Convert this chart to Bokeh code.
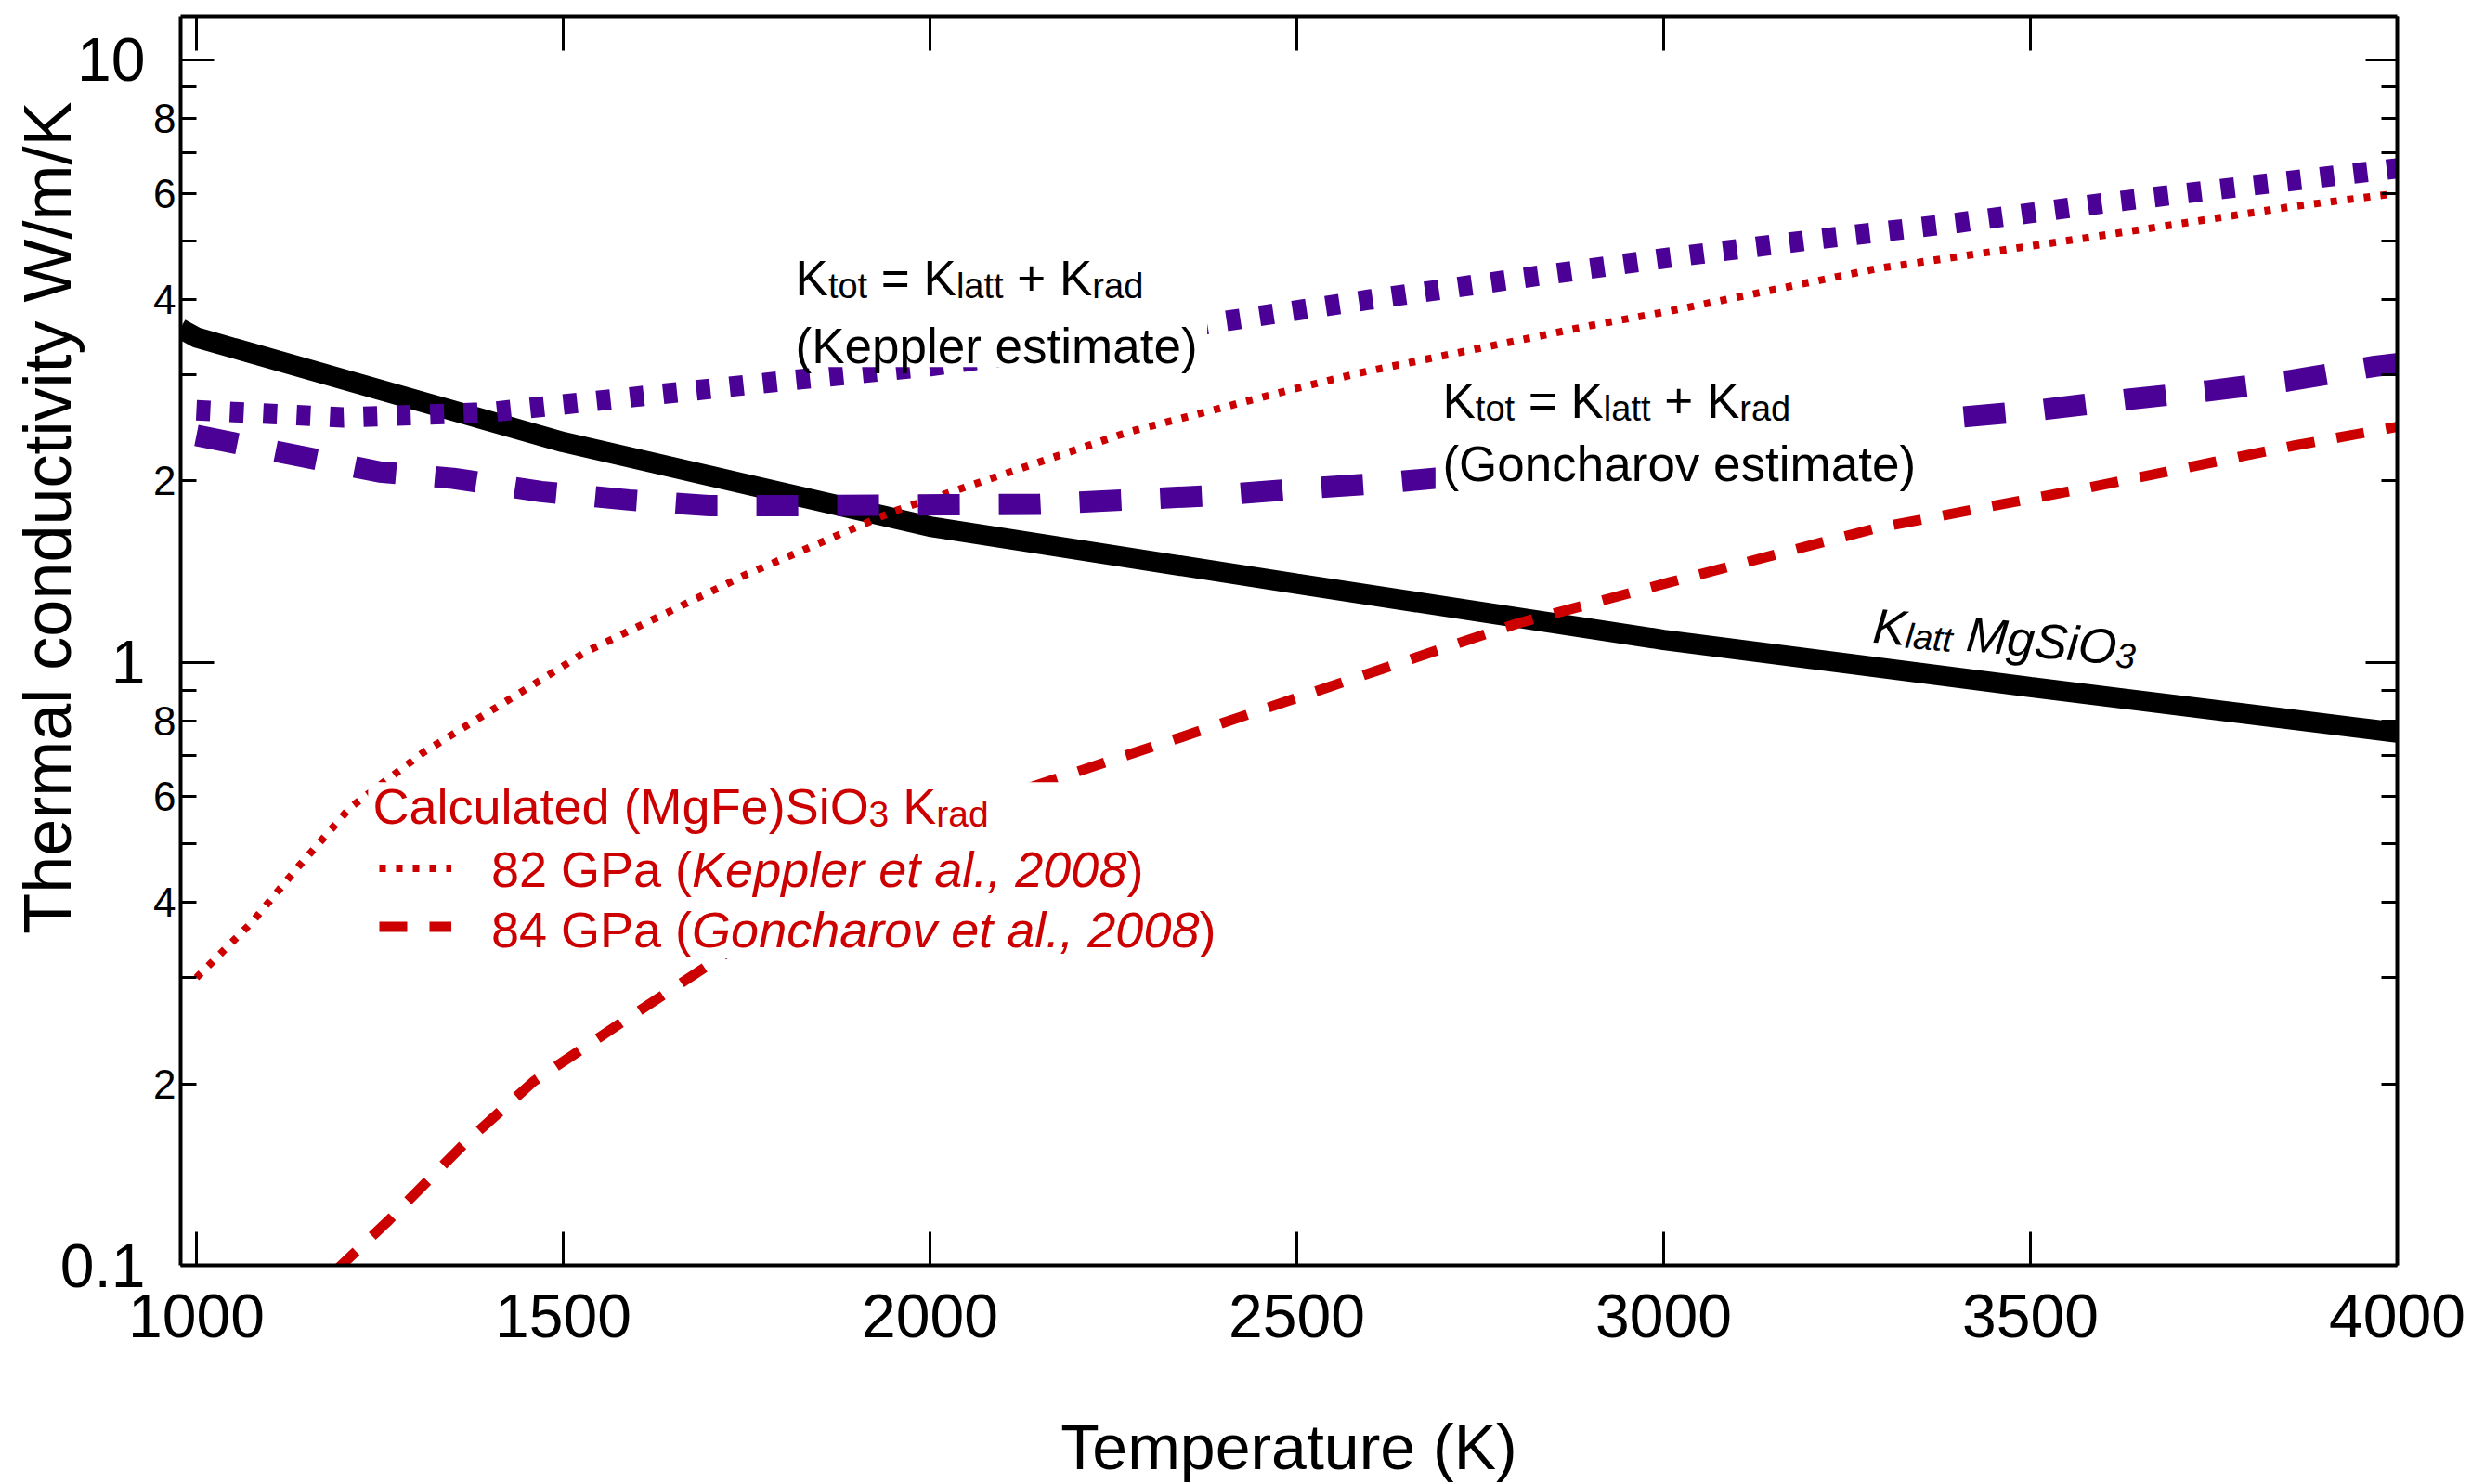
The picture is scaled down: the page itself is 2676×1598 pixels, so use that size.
import math
from bokeh.plotting import figure
from bokeh.models import (Range1d, LinearAxis, LogAxis, FixedTicker, CustomJSTickFormatter,
                          Label, BoxAnnotation, Legend, LegendItem, Title)
from bokeh.embed import file_html
from bokeh.resources import INLINE

# ---------------- data ----------------
temp_latt = [978, 1000, 1500, 2000, 2500, 3000, 3500, 4000]
k_latt = [3.58, 3.46, 2.32, 1.68, 1.35, 1.09, 0.91, 0.765]

temp_tot_keppler = [1000, 1200, 1400, 1600, 1800, 2000, 2200, 2400, 2600, 2800,
                    3000, 3200, 3400, 3600, 3800, 4000]
k_tot_keppler = [2.62, 2.55, 2.60, 2.76, 2.93, 3.10, 3.35, 3.68, 4.00, 4.33,
                 4.68, 5.02, 5.36, 5.78, 6.18, 6.60]

temp_tot_goncharov = [1000, 1140, 1250, 1350, 1470, 1590, 1700, 1820, 2150, 2380, 2500,
                      2610, 2800, 3000, 3200, 3370, 3510, 3630, 3740, 3850, 3970, 4000]
k_tot_goncharov = [2.38, 2.20, 2.07, 2.02, 1.92, 1.86, 1.82, 1.82, 1.83, 1.89, 1.94,
                   1.98, 2.08, 2.20, 2.36, 2.53, 2.62, 2.73, 2.82, 2.93, 3.10, 3.13]

temp_rad_keppler = [1000, 1075, 1140, 1210, 1310, 1460, 1530, 1750, 1950, 2270, 2500,
                    2590, 2900, 3010, 3290, 3580, 3860, 4000]
k_rad_keppler = [0.30, 0.37, 0.46, 0.575, 0.71, 0.92, 1.04, 1.40, 1.78, 2.41, 2.85,
                 3.03, 3.62, 3.83, 4.50, 5.07, 5.71, 6.00]

temp_rad_goncharov = [1190, 1260, 1365, 1460, 1580, 1730, 1900, 2100, 2340, 2610, 2800,
                      3010, 3290, 3580, 3860, 4000]
k_rad_goncharov = [0.098, 0.118, 0.159, 0.202, 0.253, 0.334, 0.44, 0.60, 0.75, 0.97, 1.16,
                   1.36, 1.67, 1.95, 2.29, 2.46]

x_ticks = [1000, 1500, 2000, 2500, 3000, 3500, 4000]
y_major_ticks = [0.1, 1, 10]
y_minor_ticks = [0.2, 0.3, 0.4, 0.5, 0.6, 0.7, 0.8, 0.9, 2, 3, 4, 5, 6, 7, 8, 9]
y_minor_labeled = [0.2, 0.4, 0.6, 0.8, 2, 4, 6, 8]

x_title = "Temperature (K)"
y_title = "Thermal conductivity W/m/K"

# ---------------- styles ----------------
FONT = "Liberation Sans"
PURPLE = "#4b0096"
RED = "#cc0000"
MAIN, SUB, LEG, LEGSUB = 53, 38, 54, 39
SUBDY = -8
BASE_FIX = 16   # screen-px correction so label baselines sit where measured

# Arial / Liberation Sans advance widths (1/1000 em) for text-run layout
W = {' ': 278, '(': 333, ')': 333, '+': 584, '=': 584, ',': 278, '.': 278,
     'C': 722, 'F': 611, 'G': 778, 'K': 667, 'M': 833, 'O': 778, 'P': 667, 'S': 667,
     'a': 556, 'c': 500, 'd': 556, 'e': 556, 'g': 556, 'h': 556, 'i': 222, 'l': 222,
     'm': 833, 'n': 556, 'o': 556, 'p': 556, 'r': 333, 's': 500, 't': 278, 'u': 556,
     'v': 500}


def text_width(s, size):
    return sum(W.get(c, 556) for c in s) * size / 1000.0


p = figure(width=2676, height=1598,
           x_range=Range1d(978.5, 4000), y_range=Range1d(0.1, 11.8),
           y_axis_type="log", x_axis_location=None, y_axis_location=None,
           output_backend="svg", toolbar_location=None,
           min_border_left=194, min_border_right=95, min_border_top=17, min_border_bottom=235)
p.outline_line_color = None
p.grid.visible = False
p.background_fill_color = "white"
p.border_fill_color = "white"

# ---------------- curves ----------------
p.line(temp_latt, k_latt, line_color="black", line_width=22, line_cap="butt")
r_rk = p.line(temp_rad_keppler, k_rad_keppler, line_color=RED, line_width=8,
              line_dash="7 11", line_cap="butt")
r_rg = p.line(temp_rad_goncharov, k_rad_goncharov, line_color=RED, line_width=11,
              line_dash="30 24", line_cap="butt")
p.line(temp_tot_keppler, k_tot_keppler, line_color=PURPLE, line_width=22,
       line_dash="15 21", line_cap="butt")
p.line(temp_tot_goncharov, k_tot_goncharov, line_color=PURPLE, line_width=23,
       line_dash="45 42", line_cap="butt")

# ---------------- axes ----------------
blank = "return '';"


def frame_axis(cls, ticker, tick_in, minor_in=0):
    return cls(ticker=ticker, formatter=CustomJSTickFormatter(code=blank),
               major_tick_in=tick_in, major_tick_out=0,
               minor_tick_in=minor_in, minor_tick_out=0,
               axis_line_width=4, axis_line_color="black",
               major_tick_line_width=3, minor_tick_line_width=3,
               major_tick_line_color="black", minor_tick_line_color="black",
               major_label_standoff=0, major_label_text_font_size="1px")


y_ticker = FixedTicker(ticks=y_major_ticks, minor_ticks=y_minor_ticks)
x_ticker = FixedTicker(ticks=x_ticks)

p.add_layout(frame_axis(LogAxis, y_ticker, 36, 17), "left")

minor_lab = LogAxis(ticker=FixedTicker(ticks=y_minor_labeled),
                    formatter=CustomJSTickFormatter(code=
                        "const e = Math.floor(Math.log10(tick) + 1e-9);"
                        "return String(Math.round(tick / Math.pow(10, e)));"),
                    axis_line_color=None, major_tick_line_color=None,
                    minor_tick_line_color=None, major_tick_in=0, major_tick_out=0,
                    minor_tick_in=0, minor_tick_out=0,
                    major_label_standoff=5, major_label_text_font_size="44px",
                    major_label_text_font=FONT, major_label_text_color="black")
p.add_layout(minor_lab, "left")

major_lab = LogAxis(ticker=FixedTicker(ticks=y_major_ticks),
                    formatter=CustomJSTickFormatter(code="return String(Number(tick.toPrecision(6)));"),
                    axis_line_color=None, major_tick_line_color=None,
                    minor_tick_line_color=None, major_tick_in=0, major_tick_out=0,
                    minor_tick_in=0, minor_tick_out=0,
                    major_label_standoff=6, major_label_text_font_size="66px",
                    major_label_text_font=FONT, major_label_text_color="black")
p.add_layout(major_lab, "left")

p.add_layout(Title(text=y_title, align="right", offset=92, standoff=-58,
                   text_font=FONT, text_font_size="72px", text_font_style="normal",
                   text_color="black"), "left")

p.add_layout(frame_axis(LogAxis, y_ticker, 34, 17), "right")
p.add_layout(frame_axis(LinearAxis, x_ticker, 37), "above")

bottom = LinearAxis(ticker=x_ticker, major_tick_in=36, major_tick_out=0,
                    axis_line_width=4, major_tick_line_width=3,
                    major_label_standoff=31, major_label_text_font_size="66px",
                    major_label_text_font=FONT, major_label_text_color="black",
                    axis_label=x_title, axis_label_text_font=FONT,
                    axis_label_text_font_size="68px", axis_label_text_font_style="normal",
                    axis_label_text_color="black", axis_label_standoff=77)
p.add_layout(bottom, "below")

# ---------------- white boxes behind the text blocks ----------------
for l, r, t, b in [(1809, 2378, 4.89, 3.09),      # Keppler estimate
                   (2689, 3360, 3.06, 1.91),      # Goncharov estimate
                   (1234, 2394, 0.633, 0.323)]:   # legend
    p.add_layout(BoxAnnotation(left=l, right=r, top=t, bottom=b, fill_color="white",
                               fill_alpha=1.0, line_color=None))

# ---------------- legend samples ----------------
legend = Legend(items=[LegendItem(label=" ", renderers=[r_rk]),
                       LegendItem(label=" ", renderers=[r_rg])],
                location=(214, 333.5), orientation="vertical",
                glyph_width=78, glyph_height=63, label_text_font_size="1px",
                label_standoff=0, label_width=0, label_height=0,
                padding=0, spacing=0, margin=0,
                border_line_color=None, background_fill_alpha=0)
p.add_layout(legend)


# ---------------- text runs ----------------
def place_runs(x, y, runs, color, angle=0.0):
    adv = 0.0
    ca, sa = math.cos(angle), math.sin(angle)
    for text, size, dy, style in runs:
        shown = text.strip(" ")
        lead = len(text) - len(text.lstrip(" "))
        a = adv + text_width(" " * lead, size)
        p.add_layout(Label(x=x, y=y, x_offset=a * ca - dy * sa,
                           y_offset=a * sa + dy * ca + BASE_FIX,
                           text=shown, text_font=FONT, text_font_size=f"{size}px",
                           text_font_style=style, text_color=color, text_align="left",
                           text_baseline="alphabetic", angle=angle))
        adv += text_width(text, size)


ktot = [("K", MAIN, 0, "normal"), ("tot", SUB, SUBDY, "normal"),
        (" = K", MAIN, 0, "normal"), ("latt", SUB, SUBDY, "normal"),
        (" + K", MAIN, 0, "normal"), ("rad", SUB, SUBDY, "normal")]

place_runs(1816.5, 4.096, ktot, "black")
place_runs(1816.5, 3.162, [("(Keppler estimate)", MAIN, 0, "normal")], "black")
place_runs(2698.7, 2.566, ktot, "black")
place_runs(2698.7, 2.017, [("(Goncharov estimate)", MAIN, 0, "normal")], "black")

place_runs(3286, 1.089, [("K", MAIN, 0, "italic"), ("latt", SUB, SUBDY, "italic"),
                         (" MgSiO", MAIN, 0, "italic"), ("3", SUB, SUBDY, "italic")],
           "black", angle=-0.09)

place_runs(1240.5, 0.5456, [("Calculated (MgFe)SiO", LEG, 0, "normal"),
                            ("3", LEGSUB, SUBDY, "normal"), (" K", LEG, 0, "normal"),
                            ("rad", LEGSUB, SUBDY, "normal")], RED)
place_runs(1401.9, 0.4288, [("82 GPa (", LEG, 0, "normal"),
                            ("Keppler et al., 2008", LEG, 0, "italic"),
                            (")", LEG, 0, "normal")], RED)
place_runs(1401.9, 0.3406, [("84 GPa (", LEG, 0, "normal"),
                            ("Goncharov et al., 2008", LEG, 0, "italic"),
                            (")", LEG, 0, "normal")], RED)

open("out.html", "w").write(file_html(p, INLINE))
